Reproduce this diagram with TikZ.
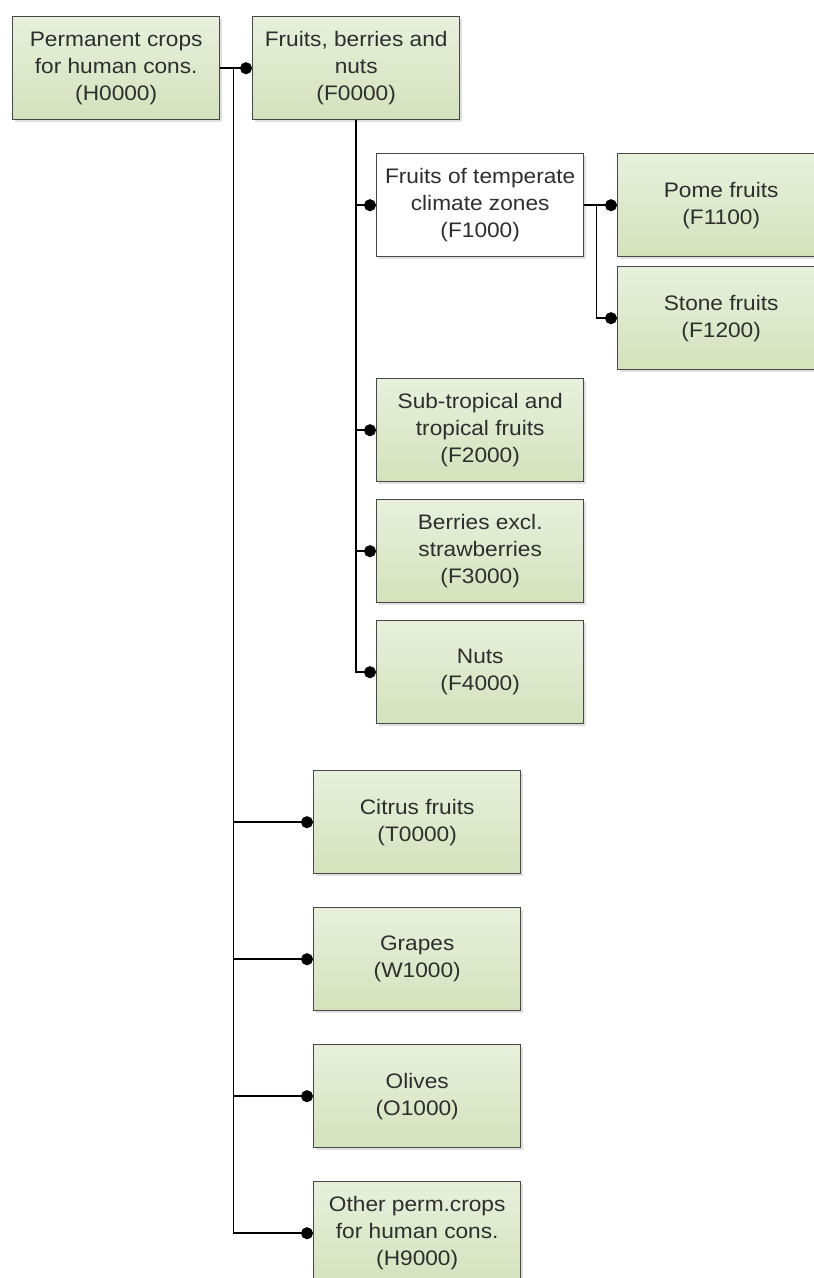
\documentclass[tikz,border=0pt]{standalone}
\usepackage{fontspec}
\setmainfont{Liberation Sans}[FakeStretch=1.08]
\usetikzlibrary{arrows.meta,shadows}
\definecolor{gtop}{RGB}{232,240,220}
\definecolor{gbot}{RGB}{212,226,188}
\definecolor{boxline}{RGB}{72,72,72}
\definecolor{txt}{RGB}{46,46,46}
\tikzset{
  base/.style={draw=boxline, line width=1.4pt, minimum width=207pt, minimum height=103pt,
    anchor=north west, align=center, text=txt, inner sep=0pt,
    font=\fontsize{21}{27}\selectfont,
    drop shadow={shadow xshift=2pt, shadow yshift=-2pt, opacity=0.25, fill=gray}},
  catbox/.style={base, top color=gtop, bottom color=gbot},
  plainbox/.style={base, fill=white},
  link/.style={line width=1.5pt, draw=black, -{Circle[length=12pt,width=12pt]}}
}
\begin{document}
\begin{tikzpicture}[x=1pt,y=-1pt]
\useasboundingbox (0,0) rectangle (814,1278);
\clip (0,0) rectangle (814,1278);
\fill[white] (0,0) rectangle (814,1278);

% top level
\node[catbox] (H0) at (12,16) {Permanent crops\\for human cons.\\(H0000)};
\node[catbox] (F0) at (252,16) {Fruits, berries and\\nuts\\(F0000)};

% fruits, berries and nuts
\node[plainbox] (F1) at (376,153) {Fruits of temperate\\climate zones\\(F1000)};
\node[catbox] (F11) at (617,153) {Pome fruits\\(F1100)};
\node[catbox] (F12) at (617,266) {Stone fruits\\(F1200)};
\node[catbox] (F2) at (376,378) {Sub-tropical and\\tropical fruits\\(F2000)};
\node[catbox] (F3) at (376,499) {Berries excl.\\strawberries\\(F3000)};
\node[catbox] (F4) at (376,620) {Nuts\\(F4000)};

% remaining permanent crops
\node[catbox] (T0) at (313,770) {Citrus fruits\\(T0000)};
\node[catbox] (W1) at (313,907) {Grapes\\(W1000)};
\node[catbox] (O1) at (313,1044) {Olives\\(O1000)};
\node[catbox] (H9) at (313,1181) {Other perm.crops\\for human cons.\\(H9000)};

% connectors from H0000
\draw[link] (H0.east) -- (F0.west);
\draw[link] (H0.east) -- ++(13,0) |- (T0.west);
\draw[link] (H0.east) -- ++(13,0) |- (W1.west);
\draw[link] (H0.east) -- ++(13,0) |- (O1.west);
\draw[link] (H0.east) -- ++(13,0) |- (H9.west);

% connectors from F0000
\draw[link] (F0.south) |- (F1.west);
\draw[link] (F0.south) |- (F2.west);
\draw[link] (F0.south) |- (F3.west);
\draw[link] (F0.south) |- (F4.west);

% connectors from F1000
\draw[link] (F1.east) -- (F11.west);
\draw[link] (F1.east) -- ++(12,0) |- (F12.west);
\end{tikzpicture}
\end{document}
